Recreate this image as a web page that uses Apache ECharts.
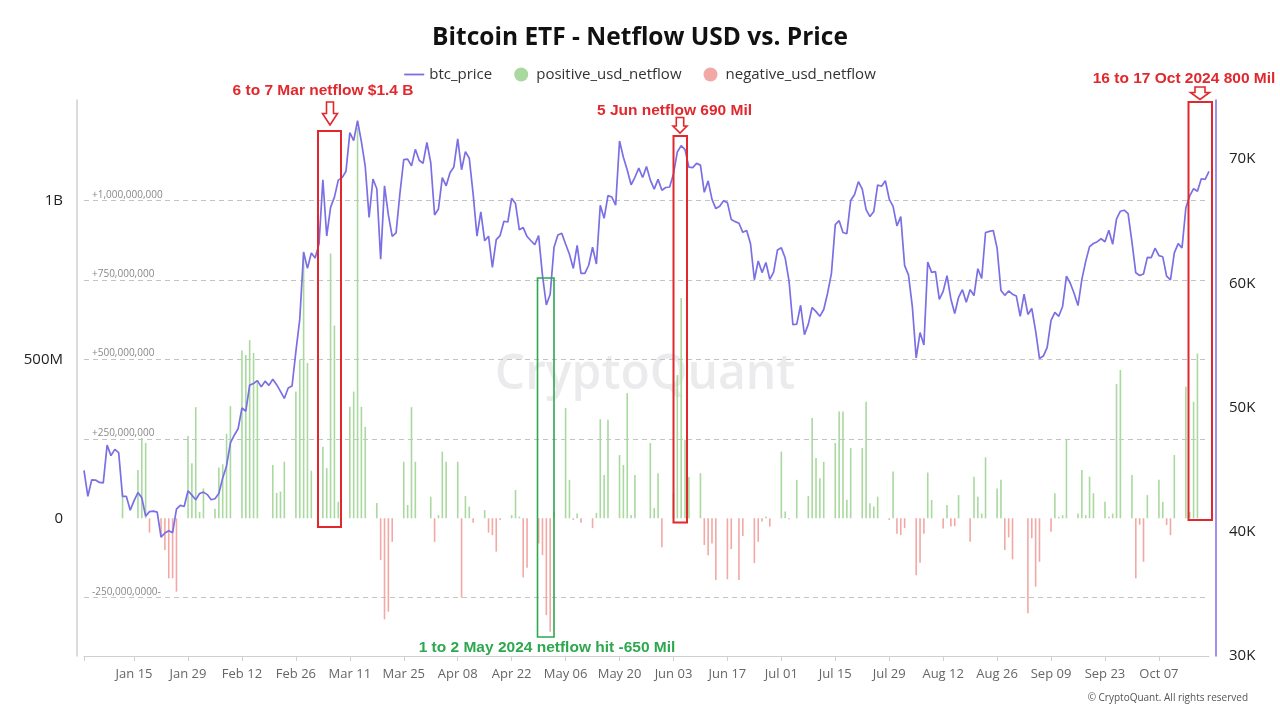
<!DOCTYPE html>
<html><head><meta charset="utf-8">
<script src="https://cdn.jsdelivr.net/npm/echarts@6/dist/echarts.min.js"></script>
<style>html,body{margin:0;padding:0;background:#fff}#c{width:1280px;height:720px}</style>
</head><body><div id="c"></div>
<script>
// ---------- DATA ----------
const startDate = '2024-01-02'; // first daily category (price is daily through 2024-10-20)
const btcPrice = [
 // Jan 2 - Jan 31
 44950,42850,44180,44160,43970,43930,46970,46130,46630,46370,42850,42840,41730,42510,43150,42740,41260,41620,41660,41580,39570,39900,40080,39930,41820,42120,42030,43300,42950,42580,
 // Feb
 43080,43190,42990,42580,42660,43080,44320,45300,47150,47770,48290,49960,49700,51800,51930,52160,51660,52120,51780,52280,51840,51300,50730,51570,51730,54520,57090,62500,61200,
 // Mar
 62440,62030,63170,68330,63800,66110,66930,68300,68500,69020,72120,71480,73080,71400,69400,65300,68390,67610,61930,67840,65500,63780,64060,67230,69960,69990,69450,70780,69900,69650,71330,
 // Apr
 69700,65490,65980,68510,67840,68900,69360,71620,69140,70590,70060,67200,63800,65740,63420,63790,61280,63510,63840,64990,64930,66840,66410,64300,64480,63760,63420,63110,63840,60640,
 // May
 58250,59120,62890,63890,64030,63160,62330,61190,63050,60790,60790,61450,62900,61550,66270,65230,67050,66940,66280,71450,70140,69120,67930,68530,69270,68510,69390,68300,67580,68360,67490,
 // Jun
 67710,67750,68800,70570,71080,70760,69340,69310,69650,69510,67320,68240,66750,66010,66190,66640,66490,65140,64960,64830,64100,64250,63180,60280,61800,60860,61670,60320,60890,62680,
 // Jul
 62850,62030,60170,56660,56710,58230,55860,56710,58050,57720,57340,57890,59200,60800,64720,65040,64090,63990,66660,67150,68180,67580,65930,65370,65780,67910,67810,68250,66780,66190,64620,
 // Aug
 65360,61420,60680,58120,53990,56030,55030,61710,60880,60940,58710,59350,60610,58740,57560,58870,59480,58480,59490,59010,61170,60380,64090,64180,64250,62830,59420,59030,59380,59120,58970,
 // Sep
 57330,59130,57490,57970,56160,53950,54140,54840,57020,57650,57340,58130,60570,60000,59180,58210,60310,61760,62950,63200,63350,63580,63340,64260,63140,65180,65800,65880,65600,63330,
 // Oct 1 - Oct 20
 60840,60630,60750,62080,62060,62820,62220,62130,60580,60270,62450,63190,62850,66080,67040,67610,67400,68410,68360,69000
];

// netflow per trading day, in millions of USD
const flowDates = [
 '01-12','01-16','01-17','01-18','01-19','01-22','01-23','01-24','01-25','01-26','01-29','01-30','01-31',
 '02-01','02-02','02-05','02-06','02-07','02-08','02-09','02-12','02-13','02-14','02-15','02-16','02-20','02-21','02-22','02-23','02-26','02-27','02-28','02-29',
 '03-01','03-04','03-05','03-06','03-07','03-08','03-11','03-12','03-13','03-14','03-15','03-18','03-19','03-20','03-21','03-22','03-25','03-26','03-27','03-28',
 '04-01','04-02','04-03','04-04','04-05','04-08','04-09','04-10','04-11','04-12','04-15','04-16','04-17','04-18','04-19','04-22','04-23','04-24','04-25','04-26','04-29','04-30',
 '05-01','05-02','05-03','05-06','05-07','05-08','05-09','05-10','05-13','05-14','05-15','05-16','05-17','05-20','05-21','05-22','05-23','05-24','05-28','05-29','05-30','05-31',
 '06-03','06-04','06-05','06-06','06-07','06-10','06-11','06-12','06-13','06-14','06-17','06-18','06-20','06-21','06-24','06-25','06-26','06-27','06-28',
 '07-01','07-02','07-03','07-05','07-08','07-09','07-10','07-11','07-12','07-15','07-16','07-17','07-18','07-19','07-22','07-23','07-24','07-25','07-26','07-29','07-30','07-31',
 '08-01','08-02','08-05','08-06','08-07','08-08','08-09','08-12','08-13','08-14','08-15','08-16','08-19','08-20','08-21','08-22','08-23','08-26','08-27','08-28','08-29','08-30',
 '09-03','09-04','09-05','09-06','09-09','09-10','09-11','09-12','09-13','09-16','09-17','09-18','09-19','09-20','09-23','09-24','09-25','09-26','09-27','09-30',
 '10-01','10-02','10-03','10-04','10-07','10-08','10-09','10-10','10-11','10-14','10-15','10-16','10-17'
];
const flowMillions = [
 80,152,253,237,-45,-60,-100,-189,-189,-231,259,173,350,
 20,94,30,160,170,266,353,528,514,561,521,435,168,80,84,178,399,500,840,489,
 150,225,158,834,607,52,351,399,1230,351,288,48,-131,-318,-294,-74,178,42,350,178,
 68,-74,10,210,178,178,-250,70,37,-14,26,-45,-53,-105,-5,10,89,5,-186,-156,-79,-116,
 -305,-357,20,347,121,-5,15,-14,-31,17,312,136,310,199,168,394,10,136,237,32,142,-91,
 80,451,694,247,130,142,-84,-116,-79,-194,-192,-97,-194,-56,-141,-74,-10,6,-26,
 210,21,-3,121,70,316,190,126,178,237,336,336,58,221,221,367,47,37,68,-5,147,-49,
 -53,-31,-179,-140,-49,144,58,-32,42,-26,-25,73,-74,131,68,15,192,94,121,-100,-60,-129,
 -299,-63,-215,-137,-42,79,5,10,247,15,152,10,131,79,52,5,15,423,467,136,
 -189,-20,-137,73,121,52,-21,-53,199,414,20,367,519
];

const leftTickValues = [0, 500000000, 1000000000];
const leftTickLabels = ['0', '500M', '1B'];
const rightTickValues = [30000, 40000, 50000, 60000, 70000];
const refLineValues = [1000000000, 750000000, 500000000, 250000000, -250000000];
const refLineLabels = ['+1,000,000,000', '+750,000,000', '+500,000,000', '+250,000,000', '-250,000,0000-'];
const monthNames = ['Jan','Feb','Mar','Apr','May','Jun','Jul','Aug','Sep','Oct','Nov','Dec'];

// ---------- BUILD ----------
const categories = [];
{
  const d0 = new Date(startDate + 'T00:00:00Z');
  for (let i = 0; i < btcPrice.length; i++) {
    const d = new Date(d0.getTime() + i * 86400000);
    categories.push(d.toISOString().slice(0, 10));
  }
}
const posFlow = categories.map(() => null);
const negFlow = categories.map(() => null);
flowDates.forEach((md, k) => {
  const idx = categories.indexOf('2024-' + md);
  if (idx < 0) return;
  const v = flowMillions[k] * 1e6;
  if (v >= 0) posFlow[idx] = v; else negFlow[idx] = v;
});
const firstLabelIdx = categories.indexOf('2024-01-15');
const showLabel = (i) => i >= firstLabelIdx && (i - firstLabelIdx) % 14 === 0;

const chart = echarts.init(document.getElementById('c'), null, {renderer: 'canvas'});
const PURPLE = '#7a6fe4';
const RED = '#e1282d';
const GREEN = '#2ea84e';
const FONT = 'Open Sans, Noto Sans, sans-serif';

function arrow(cx, y0, yh, y1, sw, hw) {
  return {
    type: 'polygon', z: 100,
    shape: {points: [[cx - sw, y0], [cx + sw, y0], [cx + sw, yh], [cx + hw, yh], [cx, y1], [cx - hw, yh], [cx - sw, yh]]},
    style: {fill: '#fff', stroke: RED, lineWidth: 1.6}
  };
}
function box(x0, y0, x1, y1, color, w) {
  return {type: 'rect', z: 100, shape: {x: x0, y: y0, width: x1 - x0, height: y1 - y0},
    style: {fill: 'none', stroke: color, lineWidth: w}};
}
function note(x, y, text, color) {
  return {type: 'text', z: 100, x: x, y: y,
    style: {text: text, fill: color, font: 'bold 15.5px "Liberation Sans", Arial, sans-serif', textAlign: 'center', textVerticalAlign: 'middle'}};
}

chart.setOption({
  animation: false,
  backgroundColor: '#fff',
  title: {
    text: 'Bitcoin ETF - Netflow USD vs. Price',
    left: 'center', top: 21,
    textStyle: {fontSize: 24.5, fontWeight: 'bold', color: '#111', fontFamily: FONT}
  },
  legend: {
    top: 62, left: 'center', itemWidth: 20, itemHeight: 14, itemGap: 22,
    textStyle: {fontSize: 15, color: '#333', fontFamily: FONT},
    data: [
      {name: 'btc_price', icon: 'path://M0,0H22V2H0Z'},
      {name: 'positive_usd_netflow', icon: 'circle'},
      {name: 'negative_usd_netflow', icon: 'circle'}
    ]
  },
  grid: {left: 84, right: 71, top: 100, bottom: 64},
  xAxis: {
    type: 'category', data: categories, boundaryGap: false,
    axisLine: {onZero: false, lineStyle: {color: '#cfcfcf', width: 1}},
    axisTick: {interval: (i) => i === 0 || showLabel(i), length: 5, lineStyle: {color: '#cfcfcf'}},
    axisLabel: {
      interval: (i) => showLabel(i), color: '#666', fontSize: 13, margin: 12, fontFamily: FONT,
      formatter: (v) => monthNames[+v.slice(5, 7) - 1] + ' ' + v.slice(8, 10)
    },
    splitLine: {show: false}
  },
  yAxis: [
    {
      type: 'value', position: 'left', offset: 7,
      min: -433600000, max: 1317100000,
      axisLine: {show: true, lineStyle: {color: '#d0d0d0', width: 1.5}},
      axisTick: {show: false},
      splitLine: {show: false},
      axisLabel: {
        customValues: leftTickValues, color: '#222', fontSize: 15, margin: 14, fontFamily: FONT,
        formatter: (v) => { const k = leftTickValues.indexOf(v); return k >= 0 ? leftTickLabels[k] : ''; }
      }
    },
    {
      type: 'value', position: 'right', offset: 7,
      min: 30000, max: 74750,
      axisLine: {show: true, lineStyle: {color: PURPLE, width: 1.5}},
      axisTick: {show: false},
      splitLine: {show: false},
      axisLabel: {
        customValues: rightTickValues, color: '#222', fontSize: 15, margin: 13, fontFamily: FONT,
        formatter: (v) => (v / 1000) + 'K'
      }
    }
  ],
  series: [
    {
      name: 'btc_price', type: 'line', yAxisIndex: 1, data: btcPrice,
      showSymbol: false, symbol: 'none', z: 5,
      lineStyle: {color: PURPLE, width: 1.7}, itemStyle: {color: PURPLE}
    },
    {
      name: 'positive_usd_netflow', type: 'bar', yAxisIndex: 0, data: posFlow,
      barWidth: 1.6, barGap: '-100%', z: 2,
      itemStyle: {color: '#a9d99f'},
      markLine: {
        silent: true, symbol: ['none', 'none'], z: 1,
        lineStyle: {type: [5, 4], color: '#c4c4c4', width: 1},
        label: {position: 'insideStartTop', color: '#888', fontSize: 10, fontFamily: FONT, distance: [8, 1]},
        data: refLineValues.map((v, i) => ({yAxis: v, label: {formatter: refLineLabels[i]}}))
      }
    },
    {
      name: 'negative_usd_netflow', type: 'bar', yAxisIndex: 0, data: negFlow,
      barWidth: 1.6, barGap: '-100%', z: 2,
      itemStyle: {color: '#f2a8a4'}
    }
  ],
  graphic: [
    {type: 'text', z: 0, x: 645, y: 375, silent: true,
      style: {text: 'CryptoQuant', fill: 'rgba(190,190,195,0.3)', font: '600 48px "Open Sans", sans-serif', textAlign: 'center', textVerticalAlign: 'middle'}},
    {type: 'text', z: 100, x: 1248, y: 698,
      style: {text: '\u00A9 CryptoQuant. All rights reserved', fill: '#555', font: '10px "Open Sans", sans-serif', textAlign: 'right', textVerticalAlign: 'middle'}},
    note(323, 90.5, '6 to 7 Mar netflow $1.4 B', RED),
    arrow(330, 102, 113.5, 125, 3.5, 7.5),
    box(318, 131, 341, 527, RED, 2),
    note(674.5, 110.5, '5 Jun netflow 690 Mil', RED),
    arrow(680, 117.5, 126, 133, 3.7, 7),
    box(673.5, 136, 687, 522.5, RED, 2),
    note(1184, 79, '16 to 17 Oct 2024 800 Mil', RED),
    arrow(1200, 87, 92.5, 99.5, 5, 9.5),
    box(1188.5, 102, 1212, 520, RED, 2),
    box(537.5, 278, 554, 637, GREEN, 1.6),
    note(547, 647.5, '1 to 2 May 2024 netflow hit -650 Mil', GREEN)
  ]
});
</script>
</body></html>
